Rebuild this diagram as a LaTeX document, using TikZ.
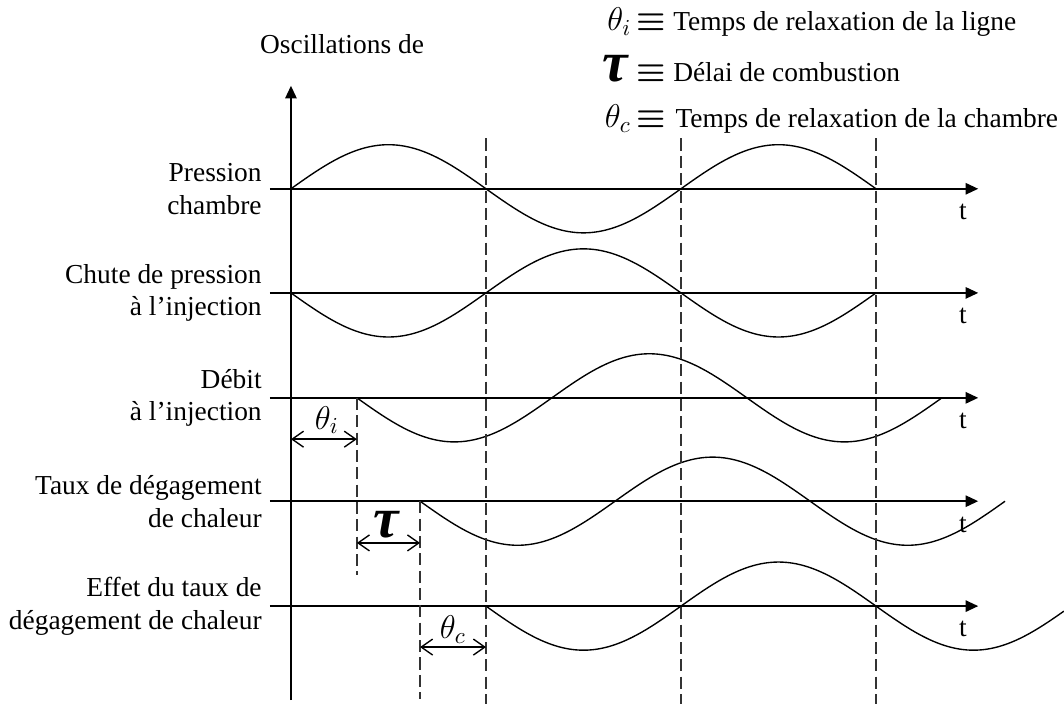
\documentclass[tikz,border=0pt]{standalone}
\usepackage{amsmath}
\usepackage{fontspec}
\setmainfont{Liberation Serif}
\usetikzlibrary{arrows.meta}

\tikzset{
  eixo/.style={line width=0.65pt, -{Triangle[length=5.5pt,width=5pt]}},
  onda/.style={line width=0.6pt, smooth, samples=120},
  guia/.style={line width=0.6pt, black!80, dash pattern=on 5.3pt off 2.3pt},
  cota/.style={line width=0.6pt, {Straight Barb[length=5pt,width=7pt]}-{Straight Barb[length=5pt,width=7pt]}},
  rotulo/.style={anchor=east, align=right},
  simbolo/.style={font=\fontsize{14.4}{16}\selectfont},
  letragrande/.style={font=\fontsize{25}{25}\selectfont\bfseries\itshape}
}

\begin{document}
\begin{tikzpicture}[x=0.6cm, y=0.6cm, inner sep=0pt, font=\fontsize{12}{14.4}\selectfont]
  \useasboundingbox (-7.46,0) rectangle (19.82,18.05);

  % Eixo vertical
  \coordinate (base) at (0,0.1);
  \coordinate (topo) at (0,15.85);
  \draw[eixo] (base) -- (topo);
  \node[anchor=base] (osc) at (1.31,16.67) {Oscillations de};

  % Eixos horizontais e rótulos t
  \foreach \n/\y in {a/13.21, b/10.54, c/7.85, d/5.2, e/2.51} {
    \coordinate (ini\n) at (-0.54,\y);
    \coordinate (fim\n) at (17.62,\y);
    \draw[eixo] (ini\n) -- (fim\n);
    \node[anchor=base] (t\n) at (17.23,\y-0.79) {t};
  }

  % Rótulos das grandezas
  \node[rotulo] (pch) at (-0.74,13.21) {Pression\\chambre};
  \node[rotulo] (chu) at (-0.74,10.54) {Chute de pression\\à l'injection};
  \node[rotulo] (deb) at (-0.74,7.85) {Débit\\à l'injection};
  \node[rotulo] (tdc) at (-0.74,5.2) {Taux de dégagement\\de chaleur};
  \node[rotulo] (eff) at (-0.74,2.51) {Effet du taux de\\dégagement de chaleur};

  % Ondas
  \draw[onda] plot[domain=0:15] (\x,{13.21+1.13*sin(36*\x)});
  \draw[onda] plot[domain=0:15] (\x,{10.54-1.13*sin(36*\x)});
  \draw[onda] plot[domain=1.69:16.69] (\x,{7.85-1.13*sin(36*(\x-1.69))});
  \draw[onda] plot[domain=3.31:18.31] (\x,{5.2-1.13*sin(36*(\x-3.31))});
  \draw[onda] plot[domain=5:19.82] (\x,{2.51-1.13*sin(36*(\x-5))});

  % Linhas tracejadas
  \foreach \x in {5,10,15}
    \draw[guia] (\x,14.5) -- (\x,0);
  \draw[guia] (1.69,7.85) -- (1.69,3.3);
  \draw[guia] (3.31,5.2) -- (3.31,0.12);

  % Cotas dos atrasos
  \coordinate (i1) at (0,6.79);
  \coordinate (i2) at (1.69,6.79);
  \draw[cota] (i1) -- (i2);
  \node[simbolo] (thi) at (0.92,7.28) {$\theta_i$};

  \coordinate (d1) at (1.69,4.13);
  \coordinate (d2) at (3.31,4.13);
  \draw[cota] (d1) -- (d2);
  \node[letragrande] (atraso) at (2.44,4.6) {τ};

  \coordinate (c1) at (3.31,1.46);
  \coordinate (c2) at (5,1.46);
  \draw[cota] (c1) -- (c2);
  \node[simbolo] (thc) at (4.15,1.92) {$\theta_c$};

  % Legenda
  \node[simbolo, anchor=base] (li) at (8.42,17.27) {$\theta_i$};
  \node[simbolo, anchor=base] (ei) at (9.23,17.27) {$\boldsymbol{\equiv}$};
  \node[anchor=base west] (txi) at (9.79,17.27) {Temps de relaxation de la ligne};

  \node[letragrande, anchor=base] (lt) at (8.3,15.95) {τ};
  \node[simbolo, anchor=base] (et) at (9.23,15.95) {$\boldsymbol{\equiv}$};
  \node[anchor=base west] (txt) at (9.79,15.95) {Délai de combustion};

  \node[simbolo, anchor=base] (lc) at (8.38,14.77) {$\theta_c$};
  \node[simbolo, anchor=base] (ec) at (9.23,14.77) {$\boldsymbol{\equiv}$};
  \node[anchor=base west] (txc) at (9.85,14.77) {Temps de relaxation de la chambre};
\end{tikzpicture}
\end{document}
